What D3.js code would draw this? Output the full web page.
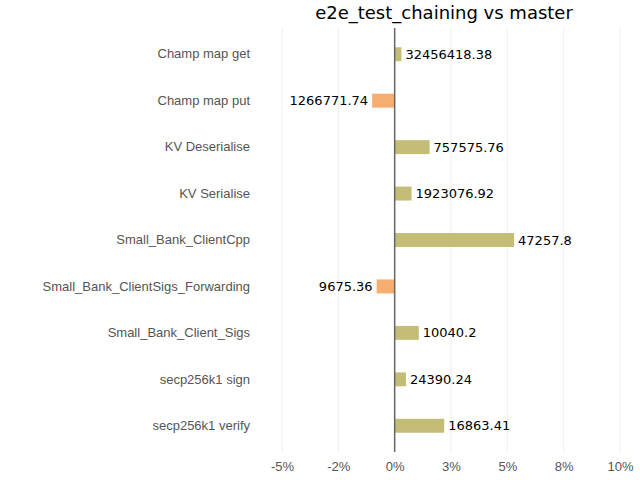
<!DOCTYPE html>
<html><head><meta charset="utf-8">
<script src="https://cdn.jsdelivr.net/npm/d3@7"></script>
<style>body{margin:0;background:#fff}</style>
</head><body><div id="chart"></div>
<script>
const categories = ["Champ map get","Champ map put","KV Deserialise","KV Serialise","Small_Bank_ClientCpp","Small_Bank_ClientSigs_Forwarding","Small_Bank_Client_Sigs","secp256k1 sign","secp256k1 verify"];
const changePct = [0.3, -1.0, 1.55, 0.75, 5.3, -0.8, 1.07, 0.5, 2.2];
const valueLabels = ["32456418.38","1266771.74","757575.76","1923076.92","47257.8","9675.36","10040.2","24390.24","16863.41"];
const tickValues = [-5, -2.5, 0, 2.5, 5, 7.5, 10];

const width = 640, height = 480;
const x = d3.scaleLinear().domain([-5, 10]).range([282, 620]);
const y = d3.scaleBand().domain(categories).range([31, 449]).paddingInner(0.7).paddingOuter(0.35);

const svg = d3.select("#chart").append("svg").attr("width", width).attr("height", height)
  .style("font-family", "DejaVu Sans");

// grid
svg.append("g").selectAll("line").data(tickValues).join("line")
  .attr("x1", d => x(d)).attr("x2", d => x(d)).attr("y1", 28).attr("y2", 452)
  .attr("stroke", "#eee");

// x axis labels
svg.append("g").attr("transform", "translate(0,452)")
  .call(d3.axisBottom(x).tickValues(tickValues).tickSize(0).tickPadding(10).tickFormat(d => Math.round(d) + "%"))
  .call(g => g.select(".domain").remove())
  .call(g => g.selectAll("text").attr("fill", "#555").attr("font-size", 13));

// y labels
svg.append("g").attr("transform", "translate(258,0)")
  .call(d3.axisLeft(y).tickSize(0).tickPadding(8))
  .call(g => g.select(".domain").remove())
  .call(g => g.selectAll("text").attr("fill", "#555").attr("font-size", 13));

// bars
svg.append("g").selectAll("rect").data(categories).join("rect")
  .attr("x", (d, i) => x(Math.min(0, changePct[i])))
  .attr("width", (d, i) => Math.abs(x(changePct[i]) - x(0)))
  .attr("y", d => y(d)).attr("height", y.bandwidth())
  .attr("fill", (d, i) => changePct[i] < 0 ? "#f5ae6f" : "#c3bd78");

// zero line
svg.append("line").attr("x1", x(0)).attr("x2", x(0)).attr("y1", 28).attr("y2", 452)
  .attr("stroke", "#666").attr("stroke-width", 1.5);

// value labels
svg.append("g").selectAll("text").data(categories).join("text")
  .attr("x", (d, i) => changePct[i] < 0 ? x(changePct[i]) - 4 : x(changePct[i]) + 4)
  .attr("y", d => y(d) + y.bandwidth() / 2).attr("dy", "0.35em")
  .attr("text-anchor", (d, i) => changePct[i] < 0 ? "end" : "start")
  .attr("font-size", 13).attr("fill", "#000")
  .text((d, i) => valueLabels[i]);

svg.append("text").attr("x", 444).attr("y", 19).attr("text-anchor", "middle")
  .attr("font-size", 18).text("e2e_test_chaining vs master");
</script></body></html>
